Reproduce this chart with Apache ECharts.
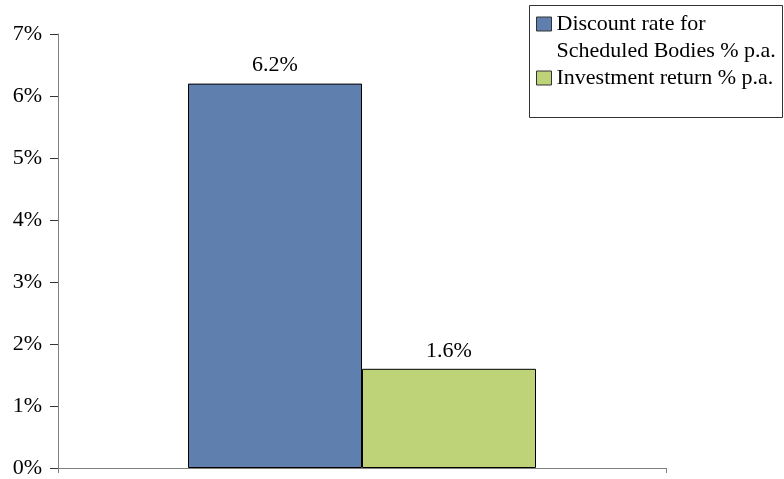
<!DOCTYPE html>
<html>
<head>
<meta charset="utf-8">
<script src="https://cdn.jsdelivr.net/npm/echarts@6/dist/echarts.min.js"></script>
<style>html,body{margin:0;padding:0;background:#fff}#c{width:784px;height:479px}</style>
</head>
<body>
<div id="c"></div>
<script>
const categories = [''];
const seriesNames = ['Discount rate for\nScheduled Bodies % p.a.', 'Investment return % p.a.'];
const discountRate = [6.2];
const investmentReturn = [1.6];
const yTicks = { min: 0, max: 7, interval: 1 };

const FONT = "'Liberation Serif', 'Times New Roman', serif";
const chart = echarts.init(document.getElementById('c'), null, { renderer: 'canvas' });
chart.setOption({
  backgroundColor: '#fff',
  animation: false,
  textStyle: { fontFamily: FONT },
  grid: { left: 58, right: 118, top: 34, bottom: 11, containLabel: false },
  graphic: [{
    type: 'rect', left: 529, top: 5, z: -1,
    shape: { width: 253, height: 112 },
    style: { fill: '#fff', stroke: '#333', lineWidth: 1 }
  }],
  legend: {
    orient: 'vertical', left: 536, top: -16.5, padding: 0, itemGap: 0,
    itemWidth: 15, itemHeight: 14, icon: 'rect',
    itemStyle: { borderColor: '#333', borderWidth: 1 },
    formatter: function (name) { return name === seriesNames[0] ? '\n' + name : name; },
    textStyle: { fontFamily: FONT, fontSize: 22, color: '#000', lineHeight: 27 },
    data: seriesNames
  },
  xAxis: {
    type: 'category', data: categories, boundaryGap: true,
    axisLine: { lineStyle: { color: '#808080', width: 1 } },
    axisTick: { show: true, length: 5, lineStyle: { color: '#808080' } },
    axisLabel: { show: false }
  },
  yAxis: {
    type: 'value', min: yTicks.min, max: yTicks.max, interval: yTicks.interval,
    splitLine: { show: false },
    axisLine: { show: true, lineStyle: { color: '#808080', width: 1 } },
    axisTick: { show: true, length: 8, lineStyle: { color: '#333' } },
    axisLabel: { formatter: '{value}%', margin: 16, fontFamily: FONT, fontSize: 22, color: '#000' }
  },
  series: [
    {
      name: seriesNames[0], type: 'bar', data: discountRate, barWidth: 174, barGap: '0%',
      itemStyle: { color: '#5F7FAF', borderColor: '#000', borderWidth: 1 },
      label: { show: true, position: 'top', distance: 7, formatter: '{c}%', fontFamily: FONT, fontSize: 22, color: '#000' }
    },
    {
      name: seriesNames[1], type: 'bar', data: investmentReturn, barWidth: 174, barGap: '0%',
      itemStyle: { color: '#BED278', borderColor: '#000', borderWidth: 1 },
      label: { show: true, position: 'top', distance: 7, formatter: '{c}%', fontFamily: FONT, fontSize: 22, color: '#000' }
    }
  ]
});
</script>
</body>
</html>
